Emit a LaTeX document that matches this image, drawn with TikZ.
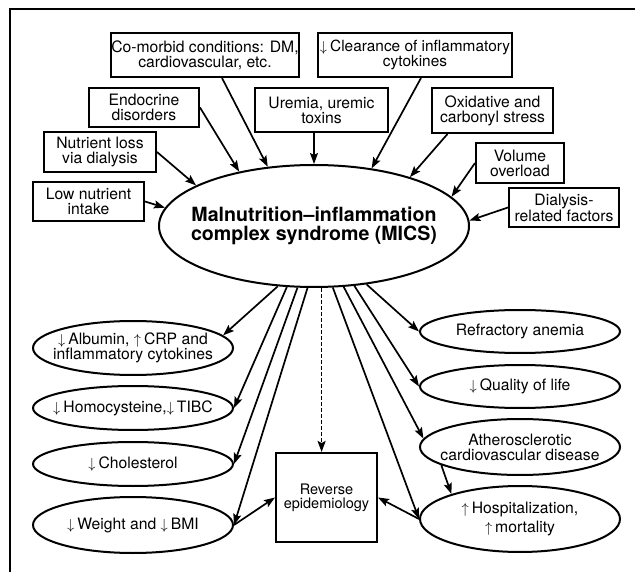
\documentclass[tikz,border=0pt]{standalone}
\usepackage{fontspec}
\setmainfont{TeX Gyre Heros}
\usetikzlibrary{shapes.geometric,arrows.meta}
\newcommand{\dn}{$\downarrow$\hspace{3pt}}
\newcommand{\upar}{$\uparrow$\hspace{3pt}}

\begin{document}
\begin{tikzpicture}[->,>={Stealth[length=11pt,width=8pt,inset=2pt]},x=1pt,y=-1pt,line width=1.7pt]
	\tikzstyle{every node}=[align=center,inner sep=0pt,font=\fontsize{15.7}{14.8}\selectfont];
	\tikzstyle{cause}=[draw,rectangle,line width=2pt];
	\tikzstyle{effect}=[draw,ellipse,line width=2pt,minimum width=200pt,inner xsep=-30pt,inner ysep=-8pt];

	\useasboundingbox (0,0) rectangle (635,572);
	\draw[-,line width=2pt] (10,572) -- (10,9) -- (635,9);

	% causes
	\node at (205, 55) (comorbid) [cause,minimum width=188pt,minimum height=44pt] {Co-morbid conditions: DM,\\cardiovascular, etc.};
	\node at (415, 55) (clearance) [cause,minimum width=194pt,minimum height=44pt,font=\fontsize{15.4}{14.8}\selectfont] {\dn Clearance of inflammatory\\cytokines};
	\node at (144, 107.5) (endocrine) [cause,minimum width=110pt,minimum height=39pt] {Endocrine\\disorders};
	\node at (321.5, 110) (uremia) [cause,minimum width=133pt,minimum height=44pt] {Uremia, uremic\\toxins};
	\node at (492.5, 110.5) (oxidative) [cause,minimum width=121pt,minimum height=45pt] {Oxidative and\\carbonyl stress};
	\node at (100, 152) (nutrloss) [cause,minimum width=112pt,minimum height=40pt] {Nutrient loss\\via dialysis};
	\node at (520, 163) (volume) [cause,minimum width=88pt,minimum height=40pt] {Volume\\overload};
	\node at (88.5, 201.5) (lowintake) [cause,minimum width=111pt,minimum height=39pt] {Low nutrient\\intake};
	\node at (564, 207.5) (dialysis) [cause,minimum width=110pt,minimum height=39pt] {Dialysis-\\related factors};

	\node at (314, 226) (mics) [draw,ellipse,line width=2pt,minimum width=310pt,minimum height=122pt,inner xsep=-20pt,font=\fontsize{19.6}{19}\selectfont\bfseries] {Malnutrition–inflammation\\complex syndrome (MICS)};

	% consequences
	\node at (133, 348) (albumin) [effect,minimum height=54pt] {\dn Albumin, \upar CRP and\\inflammatory cytokines};
	\node at (133, 408) (homocys) [effect,minimum height=44pt] {\dn Homocysteine,\dn TIBC};
	\node at (133, 464) (cholest) [effect,minimum height=44pt] {\dn Cholesterol};
	\node at (133, 525) (weight) [effect,minimum height=56pt] {\dn Weight and \dn BMI};
	\node at (520, 331.5) (anemia) [effect,minimum height=43pt] {Refractory anemia};
	\node at (520, 386.5) (quality) [effect,minimum height=43pt] {\dn Quality of life};
	\node at (520, 447) (athero) [effect,minimum height=56pt] {Atherosclerotic\\cardiovascular disease};
	\node at (520, 519) (hosp) [effect,minimum height=66pt] {\upar Hospitalization,\\[3pt]\upar mortality};
	\node at (326.5, 497.5) (reverse) [cause,minimum width=101pt,minimum height=89pt,font=\fontsize{14.5}{14}\selectfont] {Reverse\\epidemiology};

	\draw (lowintake.east) to (mics.173);
	\draw (nutrloss.east) to (mics.161);
	\draw (endocrine.east) to (mics.144);
	\draw ([xshift=17pt]comorbid.south) to (mics.128);
	\draw (uremia.south -| mics.north) to (mics.north);
	\draw ([xshift=6pt]clearance.south) to (mics.45);
	\draw ([xshift=-45pt]oxidative.south) to (mics.27);
	\draw (volume.west) to (mics.12);
	\draw (dialysis.west) to (mics.2);

	\draw (mics.-121) to (albumin.8);
	\draw (mics.-114) to (homocys.east);
	\draw (mics.-105) to (cholest.east);
	\draw (mics.-96) to (weight.east);
	\draw[dash pattern=on 4pt off 2pt] (mics.-83) to (mics.-83 |- reverse.north);
	\draw (mics.-73.5) to (hosp.west);
	\draw (mics.-64) to (athero.175);
	\draw (mics.-56) to (quality.west);
	\draw (mics.-48.5) to (anemia.west);

	\draw (weight.east) to (reverse.west);
	\draw (hosp.west) to (reverse.east);
	\draw (athero.-167) to (hosp.160);
\end{tikzpicture}
\end{document}
